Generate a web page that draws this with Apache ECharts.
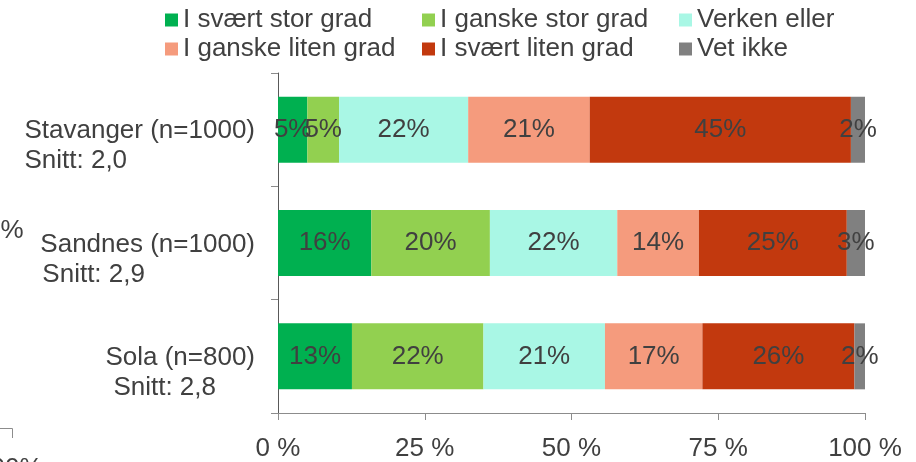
<!DOCTYPE html>
<html>
<head>
<meta charset="utf-8">
<script src="https://cdn.jsdelivr.net/npm/echarts@6/dist/echarts.min.js"></script>
<style>
  html, body { margin: 0; padding: 0; background: #fff; }
  #chart { width: 916px; height: 462px; }
</style>
</head>
<body>
<div id="chart"></div>
<script>
// kategorier og snitt
const categories = ['Stavanger (n=1000)', 'Sandnes (n=1000)', 'Sola (n=800)'];
const averages = ['Snitt: 2,0', 'Snitt: 2,9', 'Snitt: 2,8'];
const seriesNames = ['I svært stor grad', 'I ganske stor grad', 'Verken eller', 'I ganske liten grad', 'I svært liten grad', 'Vet ikke'];
const colors = ['#00B050', '#92D050', '#A9F7E5', '#F59B7D', '#C2390E', '#808080'];

// andeler i prosent (lest av bildet)
const svaertStor = [5.0, 15.9, 12.6];
const ganskeStor = [5.4, 20.2, 22.4];
const verkenEller = [22.0, 21.7, 20.7];
const ganskeLiten = [20.7, 13.9, 16.6];
const svaertLiten = [44.5, 25.2, 25.9];
const vetIkke = [2.4, 3.1, 1.8];
const xTicks = [0, 25, 50, 75, 100];

const values = [svaertStor, ganskeStor, verkenEller, ganskeLiten, svaertLiten, vetIkke];
const font = "'Liberation Sans', Arial, sans-serif";
const textColor = '#404040';
const fs = 26;

const chart = echarts.init(document.getElementById('chart'));

const option = {
  animation: false,
  textStyle: { fontFamily: font },
  color: colors,
  legend: {
    left: 165,
    top: 7,
    padding: 0,
    width: 780,
    itemWidth: 13,
    itemHeight: 13,
    itemGap: 3,
    icon: 'rect',
    textStyle: {
      fontFamily: font,
      fontSize: fs,
      color: textColor,
      width: 236,
      lineHeight: 24
    },
    data: seriesNames
  },
  grid: {
    left: 278,
    right: 51,
    top: 73,
    bottom: 44,
    containLabel: false
  },
  xAxis: {
    type: 'value',
    min: xTicks[0],
    max: xTicks[xTicks.length - 1],
    interval: 25,
    splitLine: { show: false },
    axisLine: { show: true, lineStyle: { color: '#8C8C8C', width: 1 } },
    axisTick: { show: true, length: 7, lineStyle: { color: '#8C8C8C' } },
    axisLabel: {
      formatter: '{value} %',
      fontFamily: font,
      fontSize: fs,
      color: textColor,
      margin: 23
    }
  },
  yAxis: {
    type: 'category',
    inverse: true,
    data: categories,
    axisLine: { show: true, lineStyle: { color: '#595959', width: 1 } },
    axisTick: { show: true, length: 7, lineStyle: { color: '#8C8C8C' } },
    axisLabel: {
      margin: 23,
      padding: [33, 0, 0, 0],
      formatter: (v, i) => `{n|${v}}\n{s${i}|${averages[i]}}`,
      rich: {
        n: { fontFamily: font, fontSize: fs, lineHeight: 30, color: textColor },
        s0: { fontFamily: font, fontSize: fs, lineHeight: 30, color: textColor, align: 'left' },
        s1: { fontFamily: font, fontSize: fs, lineHeight: 30, color: textColor, align: 'left', padding: [0, 0, 0, 2] },
        s2: { fontFamily: font, fontSize: fs, lineHeight: 30, color: textColor, align: 'left', padding: [0, 0, 0, 8] }
      }
    }
  },
  series: seriesNames.map((name, k) => ({
    name: name,
    type: 'bar',
    stack: 'total',
    barWidth: 66,
    data: values[k],
    label: {
      show: true,
      position: 'inside',
      formatter: p => Math.round(p.value) + '%',
      fontFamily: font,
      fontSize: fs,
      color: textColor
    }
  })),
  // rester av nabofigur langs venstre kant
  graphic: [
    {
      type: 'text', left: -14, top: 218,
      style: { text: '0%', fontFamily: font, fontSize: fs, fill: textColor }
    },
    {
      type: 'polyline',
      shape: { points: [[0, 428.5], [12.5, 428.5], [12.5, 438]] },
      style: { stroke: '#8C8C8C', lineWidth: 1, fill: null }
    },
    {
      type: 'text', left: -24, top: 456,
      style: { text: '100%', fontFamily: font, fontSize: fs, fill: textColor }
    }
  ]
};

chart.setOption(option);
</script>
</body>
</html>
